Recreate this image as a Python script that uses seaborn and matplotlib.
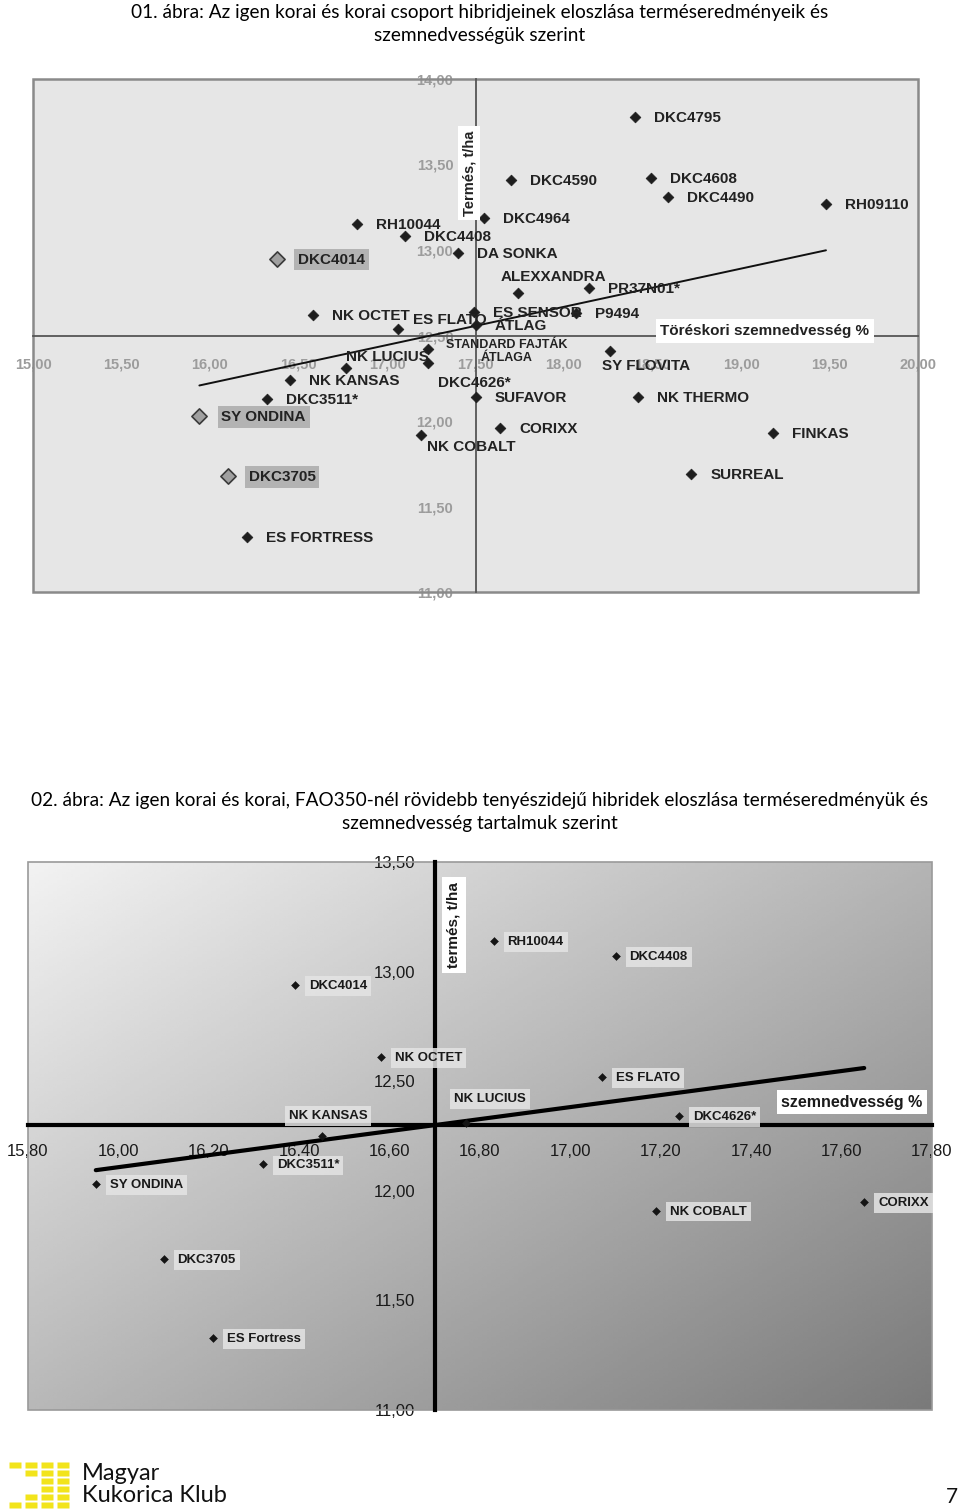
import numpy as np
import pandas as pd
import matplotlib
matplotlib.use("Agg")
import matplotlib.pyplot as plt
from matplotlib.patches import Rectangle
import seaborn as sns

# ---- 01. ábra: harvest moisture (%) and yield (t/ha) of early hybrids
hybrids1 = ["DKC4795", "DKC4590", "DKC4608", "DKC4490", "RH09110", "DKC4964",
            "RH10044", "DKC4408", "DA SONKA", "DKC4014", "ALEXXANDRA", "PR37N01*",
            "NK OCTET", "ES FLATO", "ES SENSOR", "ÁTLAG", "P9494",
            "STANDARD FAJTÁK\nÁTLAGA", "DKC4626*", "NK LUCIUS", "NK KANSAS",
            "DKC3511*", "SY ONDINA", "SY FLOVITA", "SUFAVOR", "NK THERMO",
            "CORIXX", "NK COBALT", "FINKAS", "DKC3705", "SURREAL", "ES FORTRESS"]
moisture1 = [18.40, 17.70, 18.49, 18.59, 19.48, 17.55,
             16.83, 17.10, 17.40, 16.38, 17.74, 18.14,
             16.58, 17.06, 17.49, 17.50, 18.07,
             17.23, 17.23, 16.77, 16.45,
             16.32, 15.94, 18.26, 17.50, 18.42,
             17.64, 17.19, 19.18, 16.10, 18.72, 16.21]
yield1 = [13.78, 13.41, 13.42, 13.31, 13.27, 13.19,
          13.15, 13.08, 12.98, 12.95, 12.75, 12.78,
          12.62, 12.54, 12.64, 12.56, 12.63,
          12.42, 12.34, 12.31, 12.24,
          12.13, 12.03, 12.41, 12.14, 12.14,
          11.96, 11.92, 11.93, 11.68, 11.69, 11.32]
highlight1 = ["DKC4014", "SY ONDINA", "DKC3705"]

# ---- 02. ábra: hybrids shorter than FAO350
hybrids2 = ["DKC4014", "RH10044", "DKC4408", "NK OCTET", "ES FLATO", "NK LUCIUS",
            "NK KANSAS", "DKC4626*", "DKC3511*", "SY ONDINA", "NK COBALT",
            "CORIXX", "DKC3705", "ES Fortress"]
moisture2 = [16.39, 16.83, 17.10, 16.58, 17.07, 16.77,
             16.45, 17.24, 16.32, 15.95, 17.19,
             17.65, 16.10, 16.21]
yield2 = [12.94, 13.14, 13.07, 12.61, 12.52, 12.31,
          12.25, 12.34, 12.12, 12.03, 11.91,
          11.95, 11.69, 11.33]

xticks1 = [15.0, 15.5, 16.0, 16.5, 17.0, 17.5, 18.0, 18.5, 19.0, 19.5, 20.0]
yticks1 = [11.0, 11.5, 12.0, 12.5, 13.0, 13.5, 14.0]
xticks2 = [15.8, 16.0, 16.2, 16.4, 16.6, 16.8, 17.0, 17.2, 17.4, 17.6, 17.8]
yticks2 = [11.0, 11.5, 12.0, 12.5, 13.0, 13.5]
cross1 = (17.5, 12.5)
cross2 = (16.7, 12.3)

# label placement (offset pixels from marker)
offsets1 = {"ALEXXANDRA": (-17, 16), "ES FLATO": (15, 9), "DKC4626*": (10, -20),
            "NK LUCIUS": (0, 11), "SY FLOVITA": (-8, -15), "NK COBALT": (6, -12),
            "DKC4014": (21, -1), "SY ONDINA": (22, -1), "DKC3705": (21, -1)}
offsets2 = {"NK LUCIUS": (-12, 24), "NK KANSAS": (-33, 20)}

df1 = pd.DataFrame({"hybrid": hybrids1, "moisture": moisture1, "yield": yield1})
df1["hl"] = df1["hybrid"].isin(highlight1)
df2 = pd.DataFrame({"hybrid": hybrids2, "moisture": moisture2, "yield": yield2})

sns.set_style("white")
plt.rcParams["font.family"] = ["Liberation Sans", "DejaVu Sans"]

def fmt(v):
    return f"{v:.2f}".replace(".", ",")

fig = plt.figure(figsize=(9.6, 15.1), dpi=100)
fig.patch.set_facecolor("white")

title_kw = dict(ha="center", va="center", fontsize=13.7, family=["Lato", "DejaVu Sans"],
                linespacing=1.45, color="black")
fig.text(0.5, 1 - 24 / 1510,
         "01. ábra: Az igen korai és korai csoport hibridjeinek eloszlása terméseredményeik és\n"
         "szemnedvességük szerint", **title_kw)
fig.text(0.5, 1 - 812 / 1510,
         "02. ábra: Az igen korai és korai, FAO350-nél rövidebb tenyészidejű hibridek eloszlása terméseredményük és\n"
         "szemnedvesség tartalmuk szerint", **title_kw)

# ---------------- chart 1
ax1 = fig.add_axes([33 / 960, 1 - 592 / 1510, 885 / 960, 513 / 1510])
ax1.set_facecolor("#e6e6e6")
sns.regplot(data=df1, x="moisture", y="yield", scatter=False, ci=None,
            color="#111111", line_kws=dict(lw=1.4, zorder=3), ax=ax1)
sns.scatterplot(data=df1[~df1["hl"]], x="moisture", y="yield", marker="D", s=30,
                color="#1e1e1e", edgecolor="#1e1e1e", linewidth=0.5, ax=ax1,
                zorder=5, legend=False)
sns.scatterplot(data=df1[df1["hl"]], x="moisture", y="yield", marker="D", s=60,
                color="#a0a0a0", edgecolor="#3a3a3a", linewidth=1.2, ax=ax1,
                zorder=5, legend=False)
ax1.set_xlim(15, 20)
ax1.set_ylim(11, 14)
ax1.set_xlabel("")
ax1.set_ylabel("")
for s in ["top", "right"]:
    ax1.spines[s].set_visible(False)
ax1.spines["left"].set_position(("data", cross1[0]))
ax1.spines["bottom"].set_position(("data", cross1[1]))
for s in ["left", "bottom"]:
    ax1.spines[s].set_color("#555555")
    ax1.spines[s].set_linewidth(1.3)
ax1.add_patch(Rectangle((0, 0), 1, 1, transform=ax1.transAxes, fill=False,
                        ec="#8a8a8a", lw=1.8, clip_on=False, zorder=1))
ax1.set_xticks(xticks1)
ax1.set_xticklabels([fmt(v) for v in xticks1])
ax1.set_yticks(yticks1)
ax1.set_yticklabels([fmt(v) for v in yticks1])
ax1.tick_params(direction="out", length=4, width=1, color="#555555",
                labelcolor="#9c9c9c", labelsize=10.5, pad=12)
for lab in ax1.get_xticklabels() + ax1.get_yticklabels():
    lab.set_fontweight("bold")

for _, r in df1.iterrows():
    name = r["hybrid"]
    if name.startswith("STANDARD"):
        ax1.annotate(name, (r["moisture"], r["yield"]), xytext=(79, -2),
                     textcoords="offset pixels", ha="center", va="center",
                     fontsize=9, fontweight="bold", color="#222222",
                     multialignment="center", linespacing=1.1, zorder=6)
        continue
    dx, dy = offsets1.get(name, (19, -1))
    kw = {}
    if r["hl"]:
        kw["bbox"] = dict(boxstyle="square,pad=0.25", fc="#b3b3b3", ec="none")
    ax1.annotate(name, (r["moisture"], r["yield"]), xytext=(dx, dy),
                 textcoords="offset pixels", ha="left", va="center",
                 fontsize=11, fontweight="bold", color="#222222", zorder=6, **kw)

box_w = dict(boxstyle="square,pad=0.3", fc="white", ec="none")
ax1.text(0.4927, 0.8168, "Termés, t/ha", transform=ax1.transAxes, rotation=90,
         ha="center", va="center", fontsize=10.5, fontweight="bold", color="#222222",
         bbox=box_w, zorder=7)
ax1.text(0.8271, 0.5088, "Töréskori szemnedvesség %", transform=ax1.transAxes,
         ha="center", va="center", fontsize=11, fontweight="bold", color="#222222",
         bbox=box_w, zorder=7)

# ---------------- chart 2
ax2 = fig.add_axes([28 / 960, 1 - 1410 / 1510, 904 / 960, 548 / 1510])
n = 200
u = np.linspace(0, 1, n)[None, :]
v = np.linspace(0, 1, n)[:, None]
grad = 242 - 62 * u - 58 * v
ax2.imshow(grad, extent=[15.8, 17.8, 11.0, 13.5], aspect="auto", cmap="gray",
           vmin=0, vmax=255, zorder=0, interpolation="bilinear")
sns.regplot(data=df2, x="moisture", y="yield", scatter=False, ci=None,
            color="black", line_kws=dict(lw=3, zorder=3), ax=ax2)
sns.scatterplot(data=df2, x="moisture", y="yield", marker="D", s=16,
                color="#151515", edgecolor="#151515", linewidth=0.4, ax=ax2,
                zorder=5, legend=False)
ax2.set_xlim(15.8, 17.8)
ax2.set_ylim(11.0, 13.5)
ax2.set_xlabel("")
ax2.set_ylabel("")
for s in ["top", "right"]:
    ax2.spines[s].set_visible(False)
ax2.spines["left"].set_position(("data", cross2[0]))
ax2.spines["bottom"].set_position(("data", cross2[1]))
for s in ["left", "bottom"]:
    ax2.spines[s].set_color("black")
    ax2.spines[s].set_linewidth(3)
    ax2.spines[s].set_zorder(2.6)
ax2.add_patch(Rectangle((0, 0), 1, 1, transform=ax2.transAxes, fill=False,
                        ec="#9a9a9a", lw=1.2, clip_on=False, zorder=1))
ax2.set_xticks(xticks2)
ax2.set_xticklabels([fmt(v) for v in xticks2])
ax2.set_yticks(yticks2)
ax2.set_yticklabels([fmt(v) for v in yticks2])
ax2.tick_params(direction="out", length=5, width=2.5, color="black",
                labelcolor="#1a1a1a", labelsize=12, pad=9)

for _, r in df2.iterrows():
    name = r["hybrid"]
    dx, dy = offsets2.get(name, (14, -1))
    ax2.annotate(name, (r["moisture"], r["yield"]), xytext=(dx, dy),
                 textcoords="offset pixels", ha="left", va="center",
                 fontsize=9.5, fontweight="bold", color="#1a1a1a", zorder=6,
                 bbox=dict(boxstyle="square,pad=0.3", fc="#e4e4e4", ec="none", alpha=0.85))

ax2.text(0.4712, 0.885, "termés, t/ha", transform=ax2.transAxes, rotation=90,
         ha="center", va="center", fontsize=11, fontweight="bold", color="#1a1a1a",
         bbox=box_w, zorder=7)
ax2.text(0.9115, 0.562, "szemnedvesség %", transform=ax2.transAxes,
         ha="center", va="center", fontsize=11.5, fontweight="bold", color="#1a1a1a",
         bbox=box_w, zorder=7)

# ---------------- footer: Magyar Kukorica Klub logo
logo_cols = [0, 1, 2, 3, 1, 2, 3, 2, 3, 2, 3, 1, 2, 3, 0, 1, 2, 3]
logo_rows = [0, 0, 0, 0, 1, 1, 1, 2, 2, 3, 3, 4, 4, 4, 5, 5, 5, 5]
lx = [(15 + 16 * c) / 960 for c in logo_cols]
ly = [1 - (1465 + 8 * r) / 1510 for r in logo_rows]
cell = [(-1, -0.45), (1, -0.45), (1, 0.45), (-1, 0.45), (-1, -0.45)]
fig.add_artist(plt.Line2D(lx, ly, ls="none", marker=cell, ms=9, mfc="#f2e41b",
                          mec="none", transform=fig.transFigure))
fig.text(82 / 960, 1 - 1473 / 1510, "Magyar", fontsize=17, family=["Lato", "DejaVu Sans"],
         ha="left", va="center", color="#111111")
fig.text(82 / 960, 1 - 1495 / 1510, "Kukorica Klub", fontsize=17, family=["Lato", "DejaVu Sans"],
         ha="left", va="center", color="#111111")
fig.text(952 / 960, 1 - 1497 / 1510, "7", fontsize=15, family=["Lato", "DejaVu Sans"],
         ha="center", va="center", color="#111111")

fig.savefig("out.png", dpi=100, facecolor="white")
